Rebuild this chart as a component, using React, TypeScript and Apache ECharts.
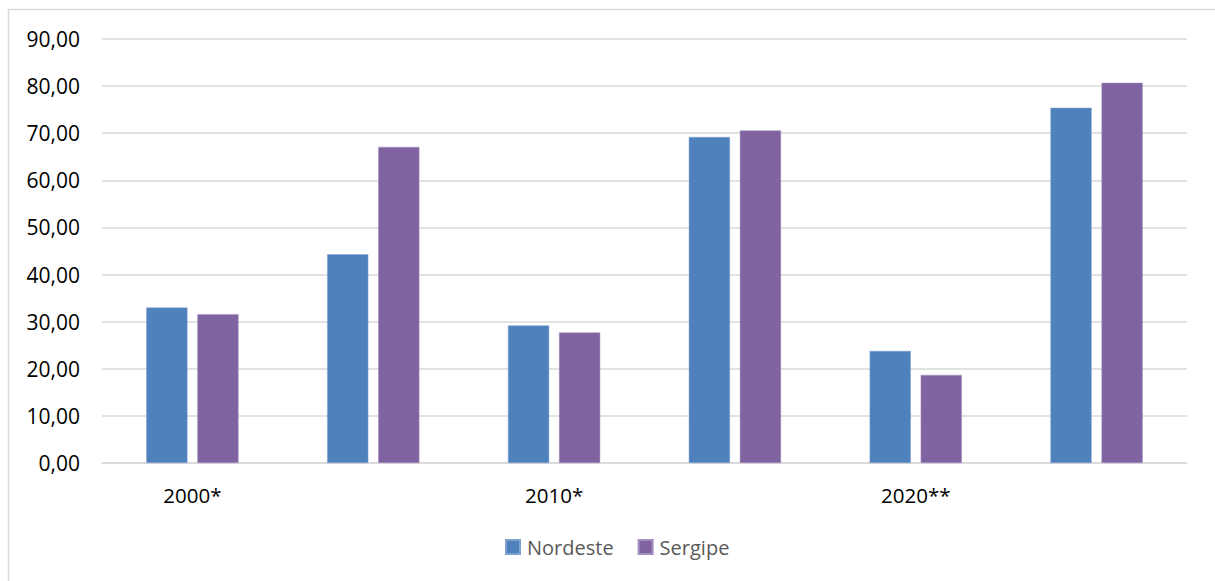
import React, { useEffect, useRef } from "react";
import * as echarts from "echarts";

const categories = ["2000*", "", "2010*", "", "2020**", ""];
const nordeste = [33.0, 44.3, 29.2, 69.2, 23.8, 75.4];
const sergipe = [31.6, 67.1, 27.7, 70.6, 18.7, 80.7];
const seriesNames = ["Nordeste", "Sergipe"];
const yTicks = { min: 0, max: 90, interval: 10 };

const FONT = "'Open Sans', 'Liberation Sans', sans-serif";

export default function App() {
  const ref = useRef<HTMLDivElement>(null);
  useEffect(() => {
    document.body.style.margin = "0";
    const chart = echarts.init(ref.current!, null, { renderer: "svg" });
    chart.setOption({
      animation: false,
      backgroundColor: "#ffffff",
      graphic: [
        {
          type: "rect",
          shape: { x: 8.5, y: 9.5, width: 1215, height: 600 },
          style: { fill: "none", stroke: "#d9d9d9", lineWidth: 1.5 },
          silent: true,
        },
      ],
      grid: { left: 102, right: 28, top: 39, bottom: 118, containLabel: false },
      legend: {
        bottom: 19,
        left: 500,
        itemWidth: 14,
        itemHeight: 14,
        itemGap: 24,
        icon: "rect",
        textStyle: { fontFamily: FONT, fontSize: 20, color: "#595959", padding: [0, 0, 0, 2] },
        data: seriesNames,
      },
      xAxis: {
        type: "category",
        data: categories,
        axisLine: { show: true, lineStyle: { color: "#d9d9d9", width: 1.5 } },
        axisTick: { show: false },
        axisLabel: {
          interval: 0,
          margin: 21,
          fontFamily: FONT,
          fontSize: 20.5,
          color: "#000000",
        },
      },
      yAxis: {
        type: "value",
        min: yTicks.min,
        max: yTicks.max,
        interval: yTicks.interval,
        axisLine: { show: false },
        axisTick: { show: false },
        splitLine: { lineStyle: { color: "#d9d9d9", width: 1.5 } },
        axisLabel: {
          margin: 22,
          fontFamily: FONT,
          fontSize: 21,
          color: "#000000",
          formatter: (v: number) => v.toFixed(2).replace(".", ","),
        },
      },
      series: [
        {
          name: seriesNames[0],
          type: "bar",
          data: nordeste,
          barGap: "24%",
          barCategoryGap: "49%",
          itemStyle: { color: "#4F81BD", borderColor: "#7FA2D0", borderWidth: 0.5 },
        },
        {
          name: seriesNames[1],
          type: "bar",
          data: sergipe,
          barGap: "24%",
          barCategoryGap: "49%",
          itemStyle: { color: "#8064A2", borderColor: "#A58FC0", borderWidth: 0.5 },
        },
      ],
    });
    return () => chart.dispose();
  }, []);
  return <div ref={ref} style={{ width: 1215, height: 581 }} />;
}
